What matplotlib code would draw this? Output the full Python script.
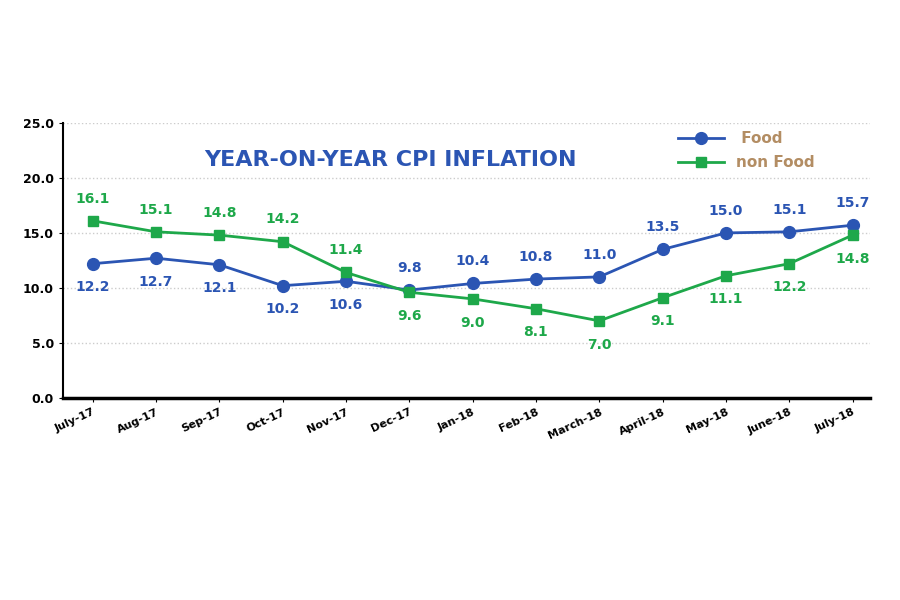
import numpy as np
import matplotlib
matplotlib.use("Agg")
import matplotlib.pyplot as plt

BLUE, GREEN, TAN = "#2b55b3", "#1ea84a", "#b38d63"

months = ["July-17", "Aug-17", "Sep-17", "Oct-17", "Nov-17", "Dec-17", "Jan-18",
          "Feb-18", "March-18", "April-18", "May-18", "June-18", "July-18"]
food = [12.2, 12.7, 12.1, 10.2, 10.6, 9.8, 10.4, 10.8, 11.0, 13.5, 15.0, 15.1, 15.7]
non_food = [16.1, 15.1, 14.8, 14.2, 11.4, 9.6, 9.0, 8.1, 7.0, 9.1, 11.1, 12.2, 14.8]

# label placement: True = above the point
food_above = [False] * 5 + [True] * 8
nonfood_above = [True] * 5 + [False] * 8

fig = plt.figure(figsize=(9, 6), dpi=100)
ax = fig.add_axes([0.07, 0.337, 0.897, 0.458])

x = np.arange(len(months))
ax.plot(x, food, color=BLUE, lw=2, marker="o", ms=8.5, label=" Food")
ax.plot(x, non_food, color=GREEN, lw=2, marker="s", ms=7.5, label="non Food")

for xi, v, up in zip(x, food, food_above):
    ax.annotate(f"{v:.1f}", (xi, v), xytext=(0, 11 if up else -12),
                textcoords="offset points", ha="center",
                va="bottom" if up else "top", color=BLUE,
                fontsize=10, fontweight="bold")
for xi, v, up in zip(x, non_food, nonfood_above):
    ax.annotate(f"{v:.1f}", (xi, v), xytext=(0, 11 if up else -12),
                textcoords="offset points", ha="center",
                va="bottom" if up else "top", color=GREEN,
                fontsize=10, fontweight="bold")

ax.set_xlim(-0.47, 12.28)
ax.set_ylim(0, 25)
ax.set_yticks(np.arange(0, 25.1, 5))
ax.set_yticklabels([f"{t:.1f}" for t in np.arange(0, 25.1, 5)],
                   fontsize=9, fontweight="bold")
ax.set_xticks(x)
ax.set_xticklabels(months, rotation=25, ha="right", rotation_mode="anchor",
                   fontsize=8, fontweight="bold")
ax.grid(axis="y", color="#cccccc", ls=":", lw=1)
ax.spines[["top", "right"]].set_visible(False)
ax.spines["left"].set_linewidth(1.5)
ax.spines["bottom"].set_linewidth(2.5)
ax.tick_params(axis="both", length=3)

fig.text(0.434, 0.733, "YEAR-ON-YEAR CPI INFLATION", color=BLUE,
         fontsize=16, fontweight="bold", ha="center", va="center")

leg = ax.legend(loc="upper left", bbox_to_anchor=(0.745, 1.02), frameon=False,
                fontsize=11, handlelength=3, labelspacing=0.6)
for t in leg.get_texts():
    t.set_color(TAN)
    t.set_fontweight("bold")

fig.savefig("out.png", dpi=100)
